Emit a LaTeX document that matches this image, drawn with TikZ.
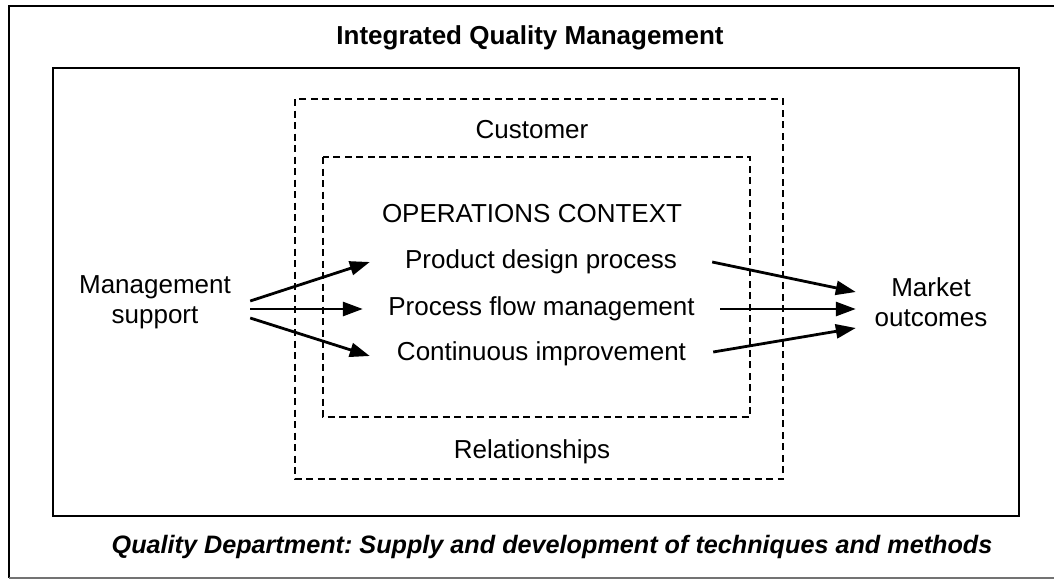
\documentclass[tikz,border=0pt]{standalone}
\usepackage{fontspec}
\setmainfont{Liberation Sans}
\usetikzlibrary{arrows.meta}
\frenchspacing
\begin{document}
\begin{tikzpicture}[x=1pt,y=-1pt,
  lbl/.style={font=\fontsize{26}{30}\selectfont, inner sep=0pt},
  proc/.style={lbl, text height=19pt, text depth=5.5pt},
  heading/.style={font=\bfseries\fontsize{26}{30}\selectfont, inner sep=0pt, anchor=base},
  footing/.style={font=\bfseries\itshape\fontsize{25.2}{30}\selectfont, inner sep=0pt, anchor=base},
  frame/.style={line width=2.2pt},
  dashbox/.style={line width=2pt, dash pattern=on 7pt off 4.5pt},
  arr/.style={line width=2.8pt, -{Triangle[length=20pt,width=14pt]}},
]
\useasboundingbox (0,0) rectangle (1054,579);

% outer frame (open to the right) and the integrated-management box
\draw[frame] (1054,6) -- (9,6) -- (9,578);
\draw[line width=1.4pt, black!55] (9,578) -- (1054,578);
\draw[frame] (53,68) rectangle (1019,516);

% customer relationships and operations context
\draw[dashbox] (295,99) rectangle (783,479);
\draw[dashbox] (323,157) rectangle (750,417);

% texts
\node[heading] (title) at (530,44) {Integrated Quality Management};
\node[footing] (foot) at (552,553) {Quality Department: Supply and development of techniques and methods};
\node[lbl, anchor=base] (cust) at (532,138) {Customer};
\node[lbl, anchor=base] (rel) at (532,458) {Relationships};
\node[lbl, anchor=base] (ctx) at (532,222) {OPERATIONS CONTEXT};

\node[proc, minimum width=342pt] (pd) at (541,262) {Product design process};
\node[proc, minimum width=357pt] (pf) at (541.5,309) {Process flow management};
\node[proc, minimum width=343pt] (ci) at (541.5,354) {Continuous improvement};

\node[lbl, align=center, minimum width=190pt] (ms) at (155,302) {Management\\support};
\node[lbl, align=center, minimum width=150pt] (mo) at (931,302) {Market\\outcomes};

% flows
\draw[arr] ([yshift=1pt]ms.east) -- (pd.west);
\draw[arr] ([yshift=-7pt]ms.east) -- (pf.west);
\draw[arr] ([yshift=-16pt]ms.east) -- ([yshift=-2pt]ci.west);
\draw[arr] (pd.east) -- ([yshift=10pt]mo.west);
\draw[arr] (pf.east) -- ([yshift=-7pt]mo.west);
\draw[arr] ([yshift=2pt]ci.east) -- ([yshift=-26pt]mo.west);
\end{tikzpicture}
\end{document}
